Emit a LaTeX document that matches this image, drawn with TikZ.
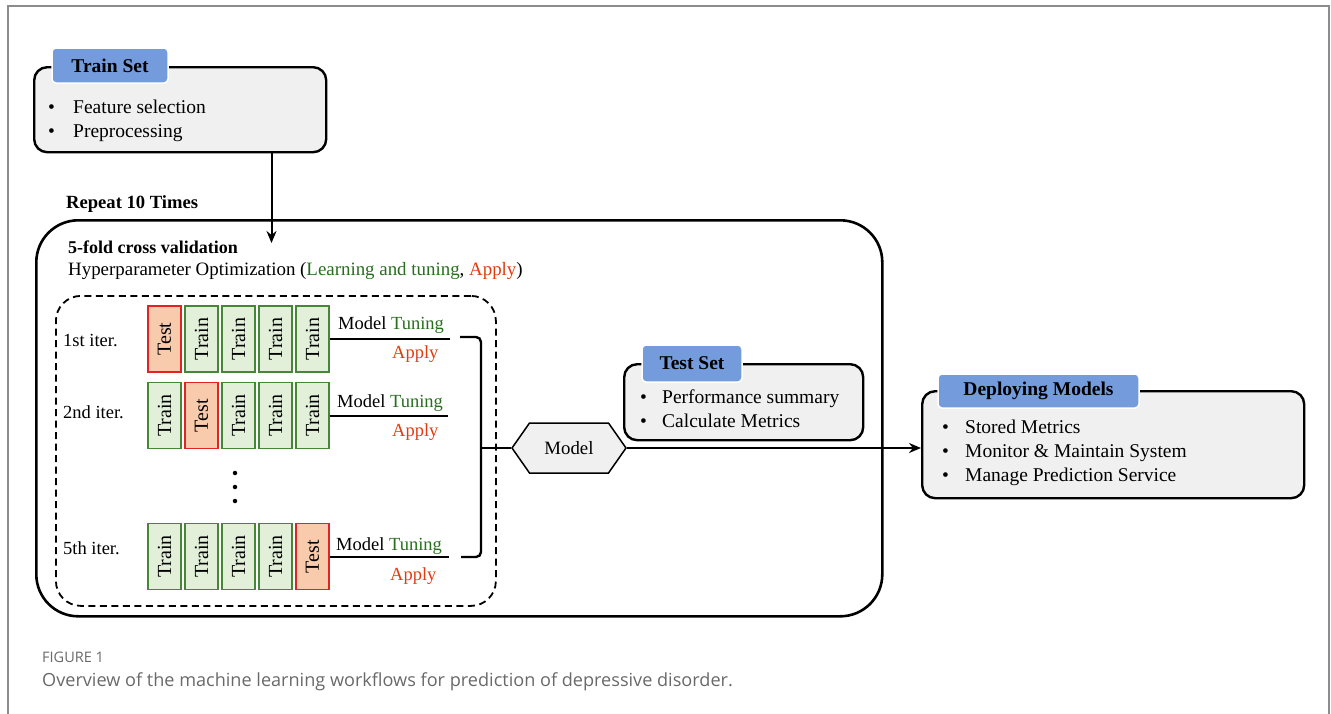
\documentclass[tikz,border=0pt]{standalone}
\usepackage{fontspec}
\setmainfont{Liberation Serif}
\newfontfamily\capfont{Open Sans}
\usetikzlibrary{arrows.meta,shapes.symbols}
\definecolor{panelfill}{RGB}{240,240,240}
\definecolor{tabblue}{RGB}{116,155,220}
\definecolor{trainfill}{RGB}{226,240,217}
\definecolor{traindraw}{RGB}{70,135,55}
\definecolor{testfill}{RGB}{248,203,173}
\definecolor{testdraw}{RGB}{225,35,35}
\definecolor{tgreen}{RGB}{40,110,30}
\definecolor{tred}{RGB}{225,60,15}
\definecolor{framegray}{RGB}{140,140,140}
\definecolor{capgray}{RGB}{105,105,105}
\newcommand\fsz[1]{\fontsize{#1}{#1}\selectfont}
\tikzset{
  panel/.style={draw=black, line width=2.4pt, fill=panelfill, rounded corners=13pt, anchor=north west, inner sep=0pt},
  tabbox/.style={fill=tabblue, draw=white, line width=1.5pt, rounded corners=4pt, inner sep=0pt, font=\fsz{19.5}\bfseries},
  txt/.style={inner sep=0pt, anchor=base west, font=\fsz{19.5}},
  smalltxt/.style={inner sep=0pt, anchor=base west, font=\fsz{18.5}},
  cvtxt/.style={inner sep=0pt, anchor=base west, font=\fsz{18.9}},
  trainblk/.style={draw=traindraw, fill=trainfill, line width=1.3pt, minimum width=33pt, minimum height=66pt, inner sep=0pt, font=\fsz{20}},
  testblk/.style={draw=testdraw, fill=testfill, line width=1.3pt, minimum width=33pt, minimum height=66pt, inner sep=0pt, font=\fsz{20}},
  tline/.style={line width=2pt},
  arr/.style={line width=2pt, -{Stealth[length=12pt,width=10pt]}},
  dotn/.style={circle, fill=black, inner sep=0pt, minimum size=4.5pt},
}
\begin{document}
\begin{tikzpicture}[x=1pt,y=-1pt]
\useasboundingbox (0,0) rectangle (1331,713);
% outer frame
\draw[framegray, line width=2pt] (7.5,720) -- (7.5,5.5) -- (1329,5.5) -- (1329,720);

% big cross-validation box
\node[draw=black, line width=2.6pt, rounded corners=42pt, anchor=north west, inner sep=0pt,
      minimum width=846pt, minimum height=396pt] (cv) at (35,219) {};
\node[cvtxt, font=\fsz{18.6}\bfseries] (repeat) at (66,208) {Repeat 10 Times};
\node[cvtxt, font=\fsz{18}\bfseries] (fold) at (68,253) {5-fold cross validation};
\node[cvtxt] (hyper) at (68,275) {Hyperparameter Optimization (\textcolor{tgreen}{Learning and tuning}, \textcolor{tred}{Apply})};

% dashed inner box
\node[draw=black, line width=1.8pt, dash pattern=on 7pt off 4.5pt, rounded corners=25pt, anchor=north west, inner sep=0pt,
      minimum width=440pt, minimum height=310pt] (folds) at (55,295) {};

% Train set panel
\node[panel, minimum width=292pt, minimum height=85pt] (trainbox) at (33,66) {};
\node[tabbox, minimum width=116pt, minimum height=35pt] (traintab) at (110,65.5) {Train Set};
\node[txt] (tr1) at (48,113) {\makebox[25pt][l]{\textbullet}Feature selection};
\node[txt] (tr2) at (48,137) {\makebox[25pt][l]{\textbullet}Preprocessing};

% arrow into CV box
\coordinate (arrtip) at (271.5,243);
\draw[arr] (trainbox.south -| arrtip) -- (arrtip);

% iterations
\node[smalltxt] (it1) at (63,346) {1st iter.};
\node[smalltxt] (it2) at (63,418) {2nd iter.};
\node[smalltxt] (it5) at (63,554) {5th iter.};

\foreach \rr/\yy/\tt in {1/339/1, 2/415.5/2, 5/556.5/5} {
  \foreach \cc/\xx in {1/164.5, 2/201.5, 3/238.5, 4/275.5, 5/312.5} {
    \ifnum\cc=\tt
      \node[testblk] (b\rr\cc) at (\xx,\yy) {\rotatebox{90}{Test}};
    \else
      \node[trainblk] (b\rr\cc) at (\xx,\yy) {\rotatebox{90}{Train}};
    \fi
  }
}

\node[dotn] (d1) at (235,473) {};
\node[dotn] (d2) at (235,487) {};
\node[dotn] (d3) at (235,501) {};

% model tuning lines
\draw[tline] (b15.east) -- ++(120,0) coordinate (e1);
\draw[tline] (b25.east) -- ++(118,0) coordinate (e2);
\draw[tline] (b55.east) -- ++(119,0) coordinate (e5);
\node[smalltxt] (mt1) at (338,329) {Model \textcolor{tgreen}{Tuning}};
\node[smalltxt] (mt2) at (337,407) {Model \textcolor{tgreen}{Tuning}};
\node[smalltxt] (mt5) at (336,550) {Model \textcolor{tgreen}{Tuning}};
\node[smalltxt, text=tred] (ap1) at (392,358) {Apply};
\node[smalltxt, text=tred] (ap2) at (392,436) {Apply};
\node[smalltxt, text=tred] (ap5) at (390,580) {Apply};

% bracket
\coordinate (bt) at (460,337);
\coordinate (bb) at (461,557);
\coordinate (bm) at (481,448);
\draw[line width=2.4pt, rounded corners=5pt] (bt) -- (bt -| bm) -- (bb -| bm) -- (bb);

% model hexagon
\node[signal, signal to=west and east, signal pointer angle=110, draw=black, fill=panelfill, line width=1.5pt,
      minimum width=114pt, minimum height=50pt, inner sep=0pt, font=\fsz{18.8}] (model) at (569,448) {Model};
\draw[line width=2.4pt] (bm) -- (model.west);

% Test set panel
\node[panel, minimum width=239pt, minimum height=76pt] (testbox) at (623,363) {};
\node[tabbox, minimum width=100pt, minimum height=37pt] (testtab) at (692,363.5) {Test Set};
\node[txt] (ts1) at (640,403) {\makebox[22pt][l]{\textbullet}Performance summary};
\node[txt] (ts2) at (640,427) {\makebox[22pt][l]{\textbullet}Calculate Metrics};

% Deploying panel
\node[panel, minimum width=382pt, minimum height=107pt] (deploy) at (921,390) {};
\node[tabbox, minimum width=201pt, minimum height=34pt] (deptab) at (1038.5,391) {Deploying Models};
\node[txt] (dp1) at (942,433) {\makebox[23pt][l]{\textbullet}Stored Metrics};
\node[txt] (dp2) at (942,457) {\makebox[23pt][l]{\textbullet}Monitor \& Maintain System};
\node[txt] (dp3) at (942,481) {\makebox[23pt][l]{\textbullet}Manage Prediction Service};

% main arrow
\draw[arr] (model.east) -- (model.east -| deploy.west);

% caption
\node[inner sep=0pt, anchor=base west, text=capgray, font=\capfont\fsz{14.5}] (figlbl) at (42,662) {FIGURE 1};
\node[inner sep=0pt, anchor=base west, text=capgray, font=\capfont\fsz{18.1}] (caption) at (42,686) {Overview of the machine learning workflows for prediction of depressive disorder.};
\end{tikzpicture}
\end{document}
